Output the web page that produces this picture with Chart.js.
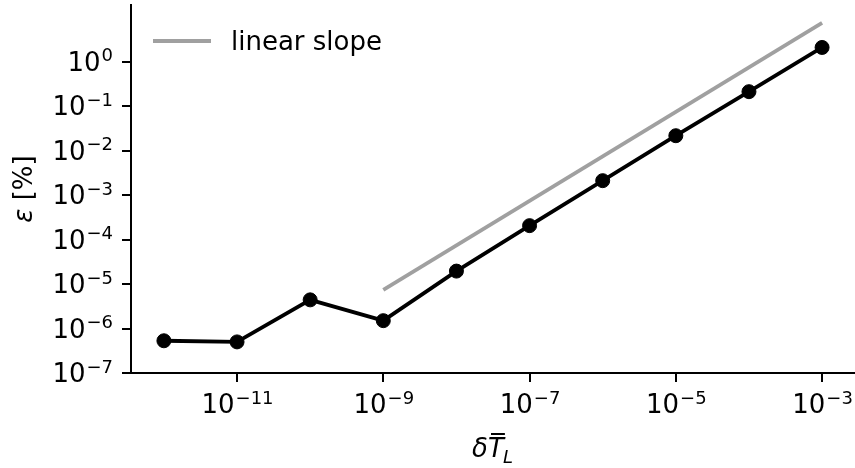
<!DOCTYPE html>
<html>
<head>
<meta charset="utf-8">
<script src="https://cdn.jsdelivr.net/npm/chart.js@4/dist/chart.umd.min.js"></script>
<style>
  html, body { margin: 0; padding: 0; background: #fff; }
  #wrap { width: 855px; height: 468px; position: relative; }
</style>
</head>
<body>
<div id="wrap"><canvas id="chart"></canvas></div>
<script>
// data
var stepSizes = [1e-12, 1e-11, 1e-10, 1e-9, 1e-8, 1e-7, 1e-6, 1e-5, 1e-4, 1e-3];
var errors = [5.3e-7, 5.0e-7, 4.4e-6, 1.5e-6, 1.95e-5, 2.05e-4, 2.1e-3, 2.15e-2, 2.1e-1, 2.07];
var slopeX = [1e-9, 1e-3];
var slopeY = [7.4e-6, 7.4];
var xTicks = [1e-11, 1e-9, 1e-7, 1e-5, 1e-3];
var yTicks = [1e-7, 1e-6, 1e-5, 1e-4, 1e-3, 1e-2, 1e-1, 1e0];

var FONT = '"DejaVu Sans", sans-serif';
var BASE = 26, SUP = 18;

function pairs(xs, ys) {
  return xs.map(function (x, i) { return { x: x, y: ys[i] }; });
}

// draws 10^n like matplotlib mathtext
function powLabel(ctx, n, x, y, align) {
  var base = '10', exp = (n < 0 ? '\u2212' : '') + Math.abs(n);
  ctx.font = BASE + 'px ' + FONT;
  var w1 = ctx.measureText(base).width;
  ctx.font = SUP + 'px ' + FONT;
  var w2 = ctx.measureText(exp).width;
  var x0 = align === 'right' ? x - w1 - w2 : x - (w1 + w2) / 2;
  ctx.textAlign = 'left';
  ctx.textBaseline = 'alphabetic';
  ctx.font = BASE + 'px ' + FONT;
  ctx.fillText(base, x0, y);
  ctx.font = SUP + 'px ' + FONT;
  ctx.fillText(exp, x0 + w1 + 1, y - 9.5);
}

var labelsPlugin = {
  id: 'mplLabels',
  afterDraw: function (chart) {
    var ctx = chart.ctx, xs = chart.scales.x, ys = chart.scales.y;
    ctx.save();
    ctx.fillStyle = '#000';

    xTicks.forEach(function (v) {
      powLabel(ctx, Math.round(Math.log10(v)), xs.getPixelForValue(v), 413, 'center');
    });
    yTicks.forEach(function (v) {
      powLabel(ctx, Math.round(Math.log10(v)), 112, ys.getPixelForValue(v) + 9, 'right');
    });

    // y title: epsilon [%]
    ctx.save();
    ctx.translate(32, (chart.chartArea.top + chart.chartArea.bottom) / 2);
    ctx.rotate(-Math.PI / 2);
    ctx.font = 'italic ' + BASE + 'px ' + FONT;
    var e = '\u03b5';
    var we = ctx.measureText(e).width;
    ctx.font = BASE + 'px ' + FONT;
    var rest = ' [%]';
    var wr = ctx.measureText(rest).width;
    var sx = -(we + wr) / 2;
    ctx.textAlign = 'left';
    ctx.font = 'italic ' + BASE + 'px ' + FONT;
    ctx.fillText(e, sx, 0);
    ctx.font = BASE + 'px ' + FONT;
    ctx.fillText(rest, sx + we, 0);
    ctx.restore();

    // x title: delta T-bar _L
    var cx = (chart.chartArea.left + chart.chartArea.right) / 2;
    var by = 457;
    ctx.font = 'italic ' + BASE + 'px ' + FONT;
    var wd = ctx.measureText('\u03b4').width;
    var wt = ctx.measureText('T').width;
    ctx.font = 'italic ' + SUP + 'px ' + FONT;
    var wl = ctx.measureText('L').width;
    var x0 = cx - (wd + wt + wl) / 2;
    ctx.textAlign = 'left';
    ctx.font = 'italic ' + BASE + 'px ' + FONT;
    ctx.fillText('\u03b4', x0, by);
    ctx.fillText('T', x0 + wd, by);
    ctx.fillRect(x0 + wd + 3, 433, wt - 2, 2);
    ctx.font = 'italic ' + SUP + 'px ' + FONT;
    ctx.fillText('L', x0 + wd + wt - 1, by + 6);

    // legend (only the slope line is labelled)
    var ds = chart.data.datasets[1];
    ctx.strokeStyle = ds.borderColor;
    ctx.lineWidth = ds.borderWidth;
    ctx.beginPath();
    ctx.moveTo(153, 41);
    ctx.lineTo(211, 41);
    ctx.stroke();
    ctx.fillStyle = '#000';
    ctx.font = BASE + 'px ' + FONT;
    ctx.fillText(ds.label, 231, 50);
    ctx.restore();
  }
};

var axisStyle = {
  display: true,
  drawOnChartArea: false,
  drawTicks: true,
  tickLength: 9,
  color: '#000',
  lineWidth: 2
};

new Chart(document.getElementById('chart'), {
  type: 'line',
  data: {
    datasets: [
      {
        label: 'error',
        data: pairs(stepSizes, errors),
        borderColor: '#000',
        backgroundColor: '#000',
        borderWidth: 3.8,
        pointRadius: 7,
        pointBorderWidth: 1,
        pointBackgroundColor: '#000',
        pointBorderColor: '#000',
        tension: 0
      },
      {
        label: 'linear slope',
        data: pairs(slopeX, slopeY),
        borderColor: '#a0a0a0',
        backgroundColor: '#a0a0a0',
        borderWidth: 3.8,
        pointRadius: 0,
        tension: 0
      }
    ]
  },
  options: {
    responsive: true,
    maintainAspectRatio: false,
    animation: false,
    layout: { autoPadding: false, padding: { top: 5, left: 0, right: 0, bottom: 0 } },
    plugins: {
      legend: { display: false },
      tooltip: { enabled: false }
    },
    scales: {
      x: {
        type: 'logarithmic',
        min: Math.pow(10, -12.45),
        max: Math.pow(10, -2.55),
        grid: axisStyle,
        border: { display: true, color: '#000', width: 2 },
        ticks: { display: false },
        afterBuildTicks: function (s) { s.ticks = xTicks.map(function (v) { return { value: v }; }); },
        afterFit: function (s) { s.height = 95; }
      },
      y: {
        type: 'logarithmic',
        min: 1e-7,
        max: Math.pow(10, 1.27),
        grid: axisStyle,
        border: { display: true, color: '#000', width: 2 },
        ticks: { display: false },
        afterBuildTicks: function (s) { s.ticks = yTicks.map(function (v) { return { value: v }; }); },
        afterFit: function (s) { s.width = 131; }
      }
    }
  },
  plugins: [labelsPlugin]
});
</script>
</body>
</html>
